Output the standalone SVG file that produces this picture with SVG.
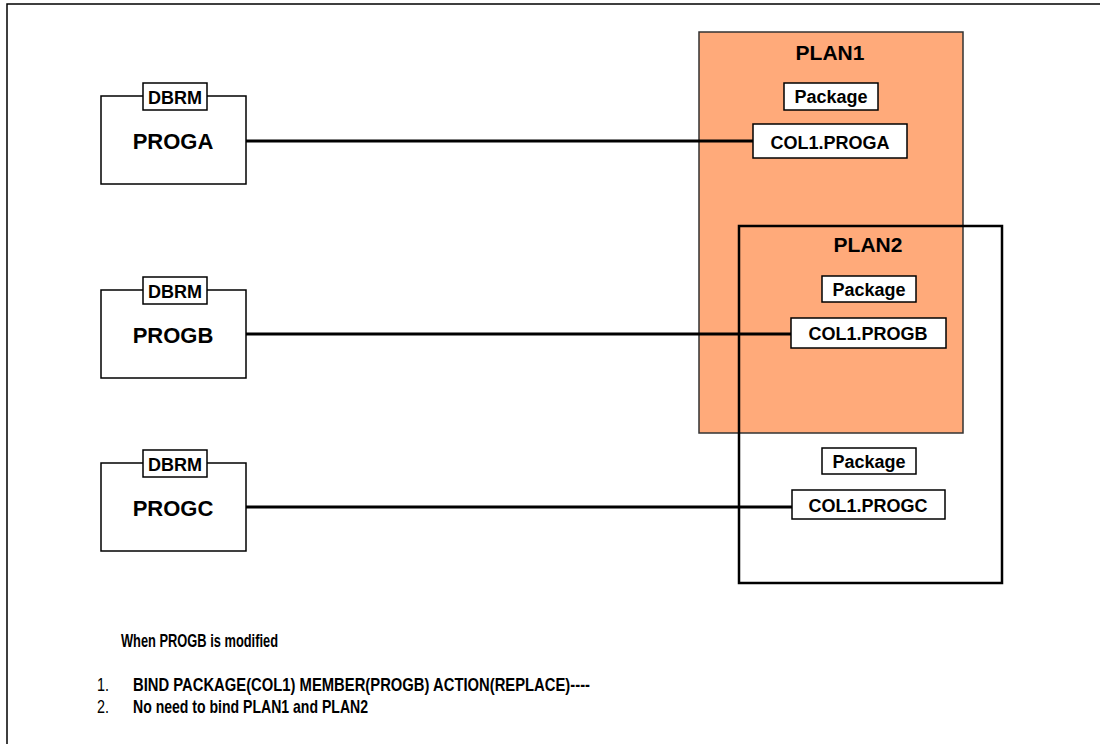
<svg xmlns="http://www.w3.org/2000/svg" width="1100" height="744" viewBox="0 0 1100 744">
  <style>
    .t { font-family: "Liberation Sans", Arial, sans-serif; font-weight: bold; fill: #000; text-anchor: middle; }
    .box { fill: #fff; stroke: #000; stroke-width: 1.5; }
    .prog { fill: #fff; stroke: #000; stroke-width: 1.5; }
    .link { stroke: #000; stroke-width: 3; fill: none; }
    .note { font-family: "Liberation Sans Narrow", "Liberation Sans", Arial, sans-serif; fill: #000; }
  </style>
  <rect width="1100" height="744" fill="#fff"/>
  <!-- outer frame -->
  <rect x="7" y="4" width="1200" height="800" fill="none" stroke="#000" stroke-width="1.5"/>

  <!-- plans -->
  <g id="plan1">
    <rect x="699" y="32" width="264" height="401" fill="#FFAA7A" stroke="#333" stroke-width="1.5"/>
    <text class="t" x="830" y="60" font-size="21">PLAN1</text>
  </g>
  <g id="plan2">
    <rect x="739" y="226" width="263" height="357" fill="none" stroke="#000" stroke-width="2.5"/>
    <text class="t" x="868" y="252" font-size="21">PLAN2</text>
  </g>

  <!-- connectors -->
  <g id="connectors">
    <line class="link" x1="246" y1="141" x2="753" y2="141"/>
    <line class="link" x1="246" y1="334" x2="791" y2="334"/>
    <line class="link" x1="246" y1="507" x2="792" y2="507"/>
  </g>

  <!-- packages in PLAN1 -->
  <g id="pkg-a">
    <rect class="box" x="784" y="83" width="94" height="27"/>
    <text class="t" x="831" y="103" font-size="18">Package</text>
    <rect class="box" x="753" y="124" width="154" height="34"/>
    <text class="t" x="830" y="149" font-size="18">COL1.PROGA</text>
  </g>
  <!-- packages in PLAN2 -->
  <g id="pkg-b">
    <rect class="box" x="822" y="276" width="94" height="26"/>
    <text class="t" x="869" y="296" font-size="18">Package</text>
    <rect class="box" x="791" y="318" width="155" height="30"/>
    <text class="t" x="868" y="340" font-size="18">COL1.PROGB</text>
  </g>
  <g id="pkg-c">
    <rect class="box" x="822" y="448" width="94" height="26"/>
    <text class="t" x="869" y="468" font-size="18">Package</text>
    <rect class="box" x="792" y="490" width="153" height="29"/>
    <text class="t" x="868" y="512" font-size="18">COL1.PROGC</text>
  </g>

  <!-- programs -->
  <g id="proga">
    <rect class="prog" x="101" y="96" width="145" height="88"/>
    <rect class="box" x="143" y="83" width="64" height="27"/>
    <text class="t" x="175" y="104" font-size="18">DBRM</text>
    <text class="t" x="173" y="149" font-size="22">PROGA</text>
  </g>
  <g id="progb">
    <rect class="prog" x="101" y="290" width="145" height="88"/>
    <rect class="box" x="143" y="277" width="64" height="27"/>
    <text class="t" x="175" y="298" font-size="18">DBRM</text>
    <text class="t" x="173" y="343" font-size="22">PROGB</text>
  </g>
  <g id="progc">
    <rect class="prog" x="101" y="463" width="145" height="88"/>
    <rect class="box" x="143" y="450" width="64" height="27"/>
    <text class="t" x="175" y="471" font-size="18">DBRM</text>
    <text class="t" x="173" y="516" font-size="22">PROGC</text>
  </g>

  <!-- notes -->
  <g id="notes">
    <text class="note" x="121" y="647" font-size="18" font-weight="bold" textLength="157" lengthAdjust="spacingAndGlyphs">When PROGB is modified</text>
    <text class="note" x="97" y="691" font-size="19" textLength="12" lengthAdjust="spacingAndGlyphs">1.</text>
    <text class="note" x="133" y="691" font-size="19" font-weight="bold" textLength="457" lengthAdjust="spacingAndGlyphs">BIND PACKAGE(COL1) MEMBER(PROGB) ACTION(REPLACE)----</text>
    <text class="note" x="97" y="713" font-size="19" textLength="12" lengthAdjust="spacingAndGlyphs">2.</text>
    <text class="note" x="133" y="713" font-size="19" font-weight="bold" textLength="235" lengthAdjust="spacingAndGlyphs">No need to bind PLAN1 and PLAN2</text>
  </g>
</svg>
